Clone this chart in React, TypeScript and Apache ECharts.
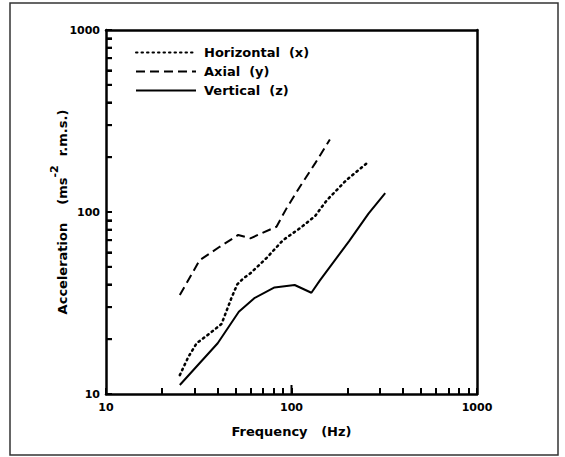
import React, { useEffect, useRef } from "react";
import * as echarts from "echarts";

// ---- data ----
const horizontalFreq = [25, 27.8, 30.8, 36.4, 42, 47.6, 51, 55, 60, 73.5, 90, 112, 134, 155, 198, 254];
const horizontalAccel = [12.7, 16, 19, 21.6, 24.3, 34, 40, 43.2, 46, 56, 70, 82, 95, 116, 150, 185];

const axialFreq = [25, 27.8, 32, 41, 51.6, 60, 83, 94, 111, 134, 161];
const axialAccel = [35, 42.3, 54.4, 64.4, 74.8, 71.7, 83, 104.7, 137.7, 185, 250];

const verticalFreq = [25, 40, 52, 63, 81, 104, 128, 142, 204, 260, 320];
const verticalAccel = [11.2, 19, 28.3, 33.6, 38.5, 39.7, 36, 42, 69, 98, 127];

const seriesNames = ["Horizontal  (x)", "Axial  (y)", "Vertical  (z)"];

const axisLabelValues = [10, 100, 1000];
const minorTickValues = [
  10, 20, 30, 40, 50, 60, 70, 80, 90,
  100, 200, 300, 400, 500, 600, 700, 800, 900, 1000,
];
const xMajorTickValues = [100];

const xAxisName = "Frequency   (Hz)";
const yAxisNameParts = ["Acceleration    (ms", "-2", "  r.m.s.)"];

const zip = (xs: number[], ys: number[]) => xs.map((x, i) => [x, ys[i]]);

const FONT = "DejaVu Sans";

export default function App() {
  const ref = useRef<HTMLDivElement>(null);

  useEffect(() => {
    document.body.style.margin = "0";
    if (!ref.current) return;
    const chart = echarts.init(ref.current, undefined, { renderer: "svg" });

    const base = {
      type: "log" as const,
      logBase: 10,
      min: 10,
      max: 1000,
      splitLine: { show: false },
      minorTick: { show: false },
    };

    const mainAxis = (isX: boolean) => ({
      ...base,
      axisLine: { show: true, onZero: false, lineStyle: { color: "#000", width: 2.5 } },
      axisTick: {
        show: true,
        inside: true,
        length: 6,
        customValues: minorTickValues,
        lineStyle: { color: "#000", width: 2 },
      },
      axisLabel: {
        customValues: axisLabelValues,
        formatter: (v: number) => String(Math.round(v)),
        color: "#000",
        fontFamily: FONT,
        fontWeight: "bold" as const,
        fontSize: 11,
        margin: isX ? 8 : 6,
      },
      nameLocation: "middle" as const,
      nameMoveOverlap: false,
    });

    const frameAxis = (position: string) => ({
      ...base,
      position,
      axisLine: { show: true, onZero: false, lineStyle: { color: "#000", width: 2.5 } },
      axisTick: { show: false },
      axisLabel: { show: false },
    });

    const tickSeries = (data: number[][], dx: number, dy: number) => ({
      type: "custom",
      silent: true,
      clip: false,
      z: 10,
      data,
      encode: { x: 0, y: 1 },
      renderItem: (_params: any, api: any) => {
        const p = api.coord([api.value(0), api.value(1)]);
        return {
          type: "line",
          shape: { x1: p[0], y1: p[1], x2: p[0] + dx, y2: p[1] + dy },
          style: { stroke: "#000", lineWidth: 2 },
        };
      },
    });

    chart.setOption({
      animation: false,
      backgroundColor: "#fff",
      grid: { left: 106, right: 88, top: 30, bottom: 63 },
      legend: {
        orient: "vertical",
        left: 135,
        top: 46,
        padding: 0,
        itemWidth: 60,
        itemHeight: 14,
        itemGap: 6,
        data: seriesNames,
        itemStyle: { color: "rgba(0,0,0,0)", borderColor: "rgba(0,0,0,0)", borderWidth: 0 },
        textStyle: {
          color: "#000",
          fontFamily: FONT,
          fontWeight: "bold",
          fontSize: 13,
          padding: [0, 0, 0, 3],
        },
      },
      xAxis: [
        {
          ...mainAxis(true),
          position: "bottom",
          name: xAxisName,
          nameGap: 31,
          nameTextStyle: { color: "#000", fontFamily: FONT, fontWeight: "bold", fontSize: 13 },
        },
        frameAxis("top"),
      ],
      yAxis: [
        {
          ...mainAxis(false),
          position: "left",
          name: `{a|${yAxisNameParts[0]}}{s|${yAxisNameParts[1]}}{a|${yAxisNameParts[2]}}`,
          nameGap: 37,
          nameTextStyle: {
            color: "#000",
            fontFamily: FONT,
            fontWeight: "bold",
            fontSize: 13,
            rich: {
              a: { color: "#000", fontFamily: FONT, fontWeight: "bold", fontSize: 13, lineHeight: 20, verticalAlign: "bottom" },
              s: { color: "#000", fontFamily: FONT, fontWeight: "bold", fontSize: 11, lineHeight: 12, verticalAlign: "top" },
            },
          },
        },
        frameAxis("right"),
      ],
      graphic: [
        {
          type: "rect",
          shape: { x: 10, y: 3, width: 548, height: 452 },
          style: { fill: "none", stroke: "#333", lineWidth: 1.5 },
          silent: true,
        },
      ],
      series: [
        {
          name: seriesNames[0],
          type: "line",
          data: zip(horizontalFreq, horizontalAccel),
          showSymbol: false,
          symbol: "none",
          lineStyle: { color: "#000", width: 2.5, type: [1.5, 4], cap: "round" },
          itemStyle: { color: "#000" },
        },
        {
          name: seriesNames[1],
          type: "line",
          data: zip(axialFreq, axialAccel),
          showSymbol: false,
          symbol: "none",
          lineStyle: { color: "#000", width: 2, type: [9, 5] },
          itemStyle: { color: "#000" },
        },
        {
          name: seriesNames[2],
          type: "line",
          data: zip(verticalFreq, verticalAccel),
          showSymbol: false,
          symbol: "none",
          lineStyle: { color: "#000", width: 2, type: "solid" },
          itemStyle: { color: "#000" },
        },
        // inward ticks on the left axis (x = 10 is the left edge)
        tickSeries(minorTickValues.map((v) => [10, v]), 6, 0),
        // taller x-axis tick at 100 Hz
        tickSeries(xMajorTickValues.map((v) => [v, 10]), 0, -9),
      ],
    });

    return () => chart.dispose();
  }, []);

  return <div ref={ref} style={{ width: 565, height: 457 }} />;
}
